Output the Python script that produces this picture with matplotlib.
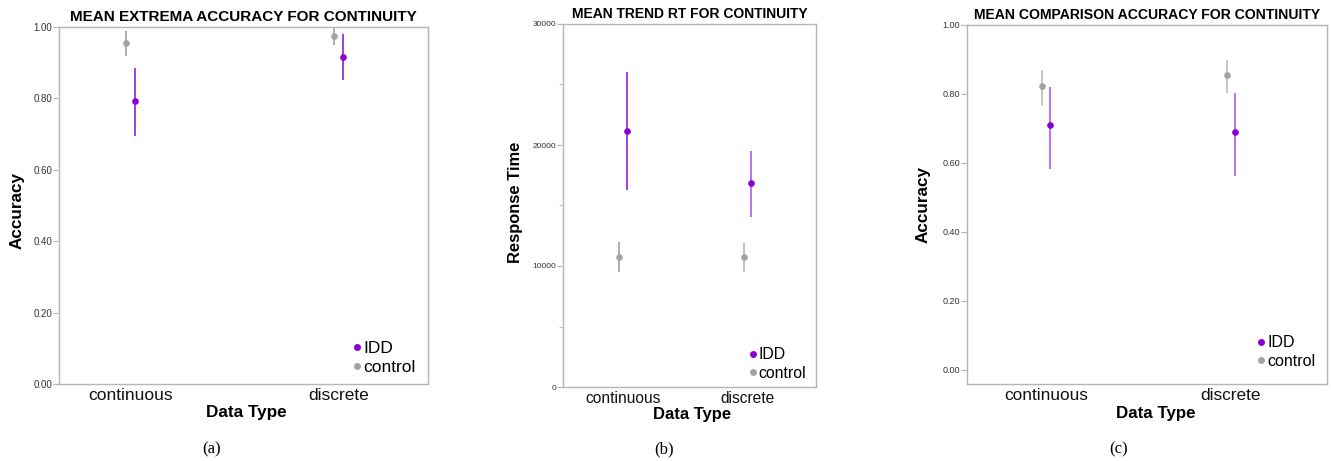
import matplotlib
matplotlib.use("Agg")
import matplotlib.pyplot as plt
from matplotlib.lines import Line2D

plt.rcParams['font.family'] = ['Liberation Sans', 'DejaVu Sans']

# ---------------- data ----------------
categories = ["continuous", "discrete"]
groups = ["IDD", "control"]

# (a) Mean extrema accuracy
a_idd_mean = [0.792, 0.917]
a_idd_lo = [0.695, 0.851]
a_idd_hi = [0.886, 0.981]
a_ctl_mean = [0.955, 0.976]
a_ctl_lo = [0.918, 0.949]
a_ctl_hi = [0.989, 1.000]

# (b) Mean trend response time
b_idd_mean = [21190, 16820]
b_idd_lo = [16300, 14070]
b_idd_hi = [26040, 19510]
b_ctl_mean = [10760, 10760]
b_ctl_lo = [9500, 9520]
b_ctl_hi = [11970, 11920]

# (c) Mean comparison accuracy
c_idd_mean = [0.709, 0.690]
c_idd_lo = [0.582, 0.563]
c_idd_hi = [0.820, 0.804]
c_ctl_mean = [0.822, 0.855]
c_ctl_lo = [0.764, 0.802]
c_ctl_hi = [0.871, 0.899]

acc_ticks = [0.0, 0.2, 0.4, 0.6, 0.8, 1.0]
acc_ticklabels = ["0.00", "0.20", "0.40", "0.60", "0.80", "1.00"]
rt_ticks = [0, 10000, 20000, 30000]
rt_ticklabels = ["0", "10000", "20000", "30000"]
rt_minor = [5000, 15000, 25000]

titles = ["MEAN EXTREMA ACCURACY FOR CONTINUITY",
          "MEAN TREND RT FOR CONTINUITY",
          "MEAN COMPARISON ACCURACY FOR CONTINUITY"]
ylabels = ["Accuracy", "Response Time", "Accuracy"]
captions = ["(a)", "(b)", "(c)"]

# ---------------- style ----------------
W, H = 1331, 461
IDD_C = "#8a00d0"
CTL_C = "#a3a3a3"
SPINE_C = "#b5b5b5"

fig = plt.figure(figsize=(W / 100, H / 100), dpi=100)


def px_axes(l, t, r, b):
    return fig.add_axes([l / W, (H - b) / H, (r - l) / W, (b - t) / H])


panels = [
    dict(box=(59, 27, 428, 384), xlim=(-0.345, 1.431), off_px=4.5,
         ylim=(0, 1.0), data=(a_idd_mean, a_idd_lo, a_idd_hi, a_ctl_mean, a_ctl_lo, a_ctl_hi),
         ticks=acc_ticks, ticklabels=acc_ticklabels, minor=None, tfs=7, title_fs=11,
         cat_fs=12.5, xl_fs=12.3, yl_fs=12.3, leg_fs=12.5,
         idd_err=["#9a2ee0", "#9a2ee0"], ctl_err=["#a8a8a8", "#a8a8a8"],
         ylab_xy=(-0.114, 0.487), xlab_xy=(0.507, -0.081),
         leg_anchor=(0.985, 0.005), cap=(212, 449)),
    dict(box=(563, 24, 816, 387), xlim=(-0.485, 1.552), off_px=3.8,
         ylim=(0, 30000), data=(b_idd_mean, b_idd_lo, b_idd_hi, b_ctl_mean, b_ctl_lo, b_ctl_hi),
         ticks=rt_ticks, ticklabels=rt_ticklabels, minor=rt_minor, tfs=6, title_fs=10,
         cat_fs=11.2, xl_fs=12, yl_fs=11.9, leg_fs=11.4,
         idd_err=["#9a2ee0", "#b666ee"], ctl_err=["#a8a8a8", "#bdbdbd"],
         ylab_xy=(-0.186, 0.51), xlab_xy=(0.51, -0.077),
         leg_anchor=(0.985, 0.0), cap=(664, 449)),
    dict(box=(967, 25, 1327, 384), xlim=(-0.427, 1.522), off_px=4.0,
         ylim=(-0.0406, 1.0), data=(c_idd_mean, c_idd_lo, c_idd_hi, c_ctl_mean, c_ctl_lo, c_ctl_hi),
         ticks=acc_ticks, ticklabels=acc_ticklabels, minor=None, tfs=6.5, title_fs=10.1,
         cat_fs=12.4, xl_fs=12.2, yl_fs=12.3, leg_fs=11.5,
         idd_err=["#b666ee", "#b666ee"], ctl_err=["#c2c2c2", "#c2c2c2"],
         ylab_xy=(-0.122, 0.499), xlab_xy=(0.525, -0.081),
         leg_anchor=(0.985, 0.025), cap=(1119, 449)),
]

for p, title, ylabel, cap in zip(panels, titles, ylabels, captions):
    l, t, r, b = p["box"]
    ax = px_axes(l, t, r, b)
    x0, x1 = p["xlim"]
    off = p["off_px"] / (r - l) * (x1 - x0)
    idd_m, idd_lo, idd_hi, ctl_m, ctl_lo, ctl_hi = p["data"]
    xs = list(range(len(categories)))
    for i in xs:
        # control (left), IDD (right)
        ax.vlines(i - off, ctl_lo[i], ctl_hi[i], color=p["ctl_err"][i], lw=1.3, zorder=2)
        ax.plot(i - off, ctl_m[i], "o", color=CTL_C, ms=4.8, mec="none", zorder=3)
        ax.vlines(i + off, idd_lo[i], idd_hi[i], color=p["idd_err"][i], lw=1.3, zorder=2)
        ax.plot(i + off, idd_m[i], "o", color=IDD_C, ms=4.8, mec="none", zorder=3)
    ax.set_xlim(x0, x1)
    ax.set_ylim(*p["ylim"])
    ax.set_xticks(xs)
    ax.set_xticklabels(categories, fontsize=p["cat_fs"], color="#111111")
    ax.tick_params(axis="x", length=0, pad=3)
    ax.set_yticks(p["ticks"])
    ax.set_yticklabels(p["ticklabels"], fontsize=p["tfs"], color="#333333")
    if p["minor"]:
        ax.set_yticks(p["minor"], minor=True)
        ax.tick_params(axis="y", which="minor", length=3, width=0.6, color=SPINE_C)
    ax.tick_params(axis="y", which="major", length=4, width=0.8, color=SPINE_C, pad=1)
    for s in ax.spines.values():
        s.set_color(SPINE_C)
        s.set_linewidth(1.0)
    ax.set_title(title, fontsize=p["title_fs"], fontweight="bold", pad=4)
    ax.set_ylabel(ylabel, fontsize=p["yl_fs"], fontweight="bold", va="center")
    ax.yaxis.set_label_coords(*p["ylab_xy"])
    ax.set_xlabel("Data Type", fontsize=p["xl_fs"], fontweight="bold", va="center")
    ax.xaxis.set_label_coords(*p["xlab_xy"])
    handles = [Line2D([], [], ls="none", marker="o", color=IDD_C, ms=5, mec="none"),
               Line2D([], [], ls="none", marker="o", color=CTL_C, ms=5, mec="none")]
    ax.legend(handles, groups, loc="lower right", bbox_to_anchor=p["leg_anchor"],
              frameon=False, fontsize=p["leg_fs"], handlelength=0.4, handletextpad=0.15,
              labelspacing=0.22, borderpad=0.2, borderaxespad=0.2)
    fig.text(p["cap"][0] / W, 1 - p["cap"][1] / H, cap, ha="center", va="center",
             fontsize=12, family="Liberation Serif")

fig.savefig("out.png", dpi=100)
